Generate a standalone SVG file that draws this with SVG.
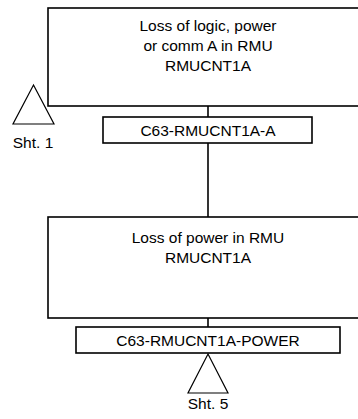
<svg xmlns="http://www.w3.org/2000/svg" width="358" height="419" viewBox="0 0 358 419">
<style>
.box{fill:#fff;stroke:#000;stroke-width:1.6}
.tri{fill:#fff;stroke:#000;stroke-width:1.2}
.ln{stroke:#000;stroke-width:1.6;fill:none}
text{font-family:"Liberation Sans",Arial,sans-serif;font-size:15.5px;fill:#000;text-anchor:middle}
</style>
<rect width="358" height="419" fill="#fff"/>
<g id="connectors">
<line class="ln" x1="208" y1="106" x2="208" y2="117"/>
<line class="ln" x1="208" y1="143" x2="208" y2="217"/>
<line class="ln" x1="208" y1="318" x2="208" y2="327"/>
</g>
<g id="gate1">
<rect class="box" x="48" y="8" width="330" height="98"/>
<text x="208" y="31">Loss of logic, power</text>
<text x="208" y="51">or comm A in RMU</text>
<text x="208" y="71">RMUCNT1A</text>
</g>
<g id="transfer1">
<polygon class="tri" points="33.5,85 54,124 13,124"/>
<text x="33" y="148">Sht. 1</text>
</g>
<g id="event1">
<rect class="box" x="103" y="117" width="209" height="26"/>
<text x="208" y="136">C63-RMUCNT1A-A</text>
</g>
<g id="gate2">
<rect class="box" x="48" y="217" width="330" height="101"/>
<text x="208" y="243">Loss of power in RMU</text>
<text x="208" y="263">RMUCNT1A</text>
</g>
<g id="event2">
<rect class="box" x="76" y="327" width="264" height="26"/>
<text x="208" y="346">C63-RMUCNT1A-POWER</text>
</g>
<g id="transfer2">
<polygon class="tri" points="208,354 228,393 188,393"/>
<text x="208" y="409">Sht. 5</text>
</g>
</svg>
